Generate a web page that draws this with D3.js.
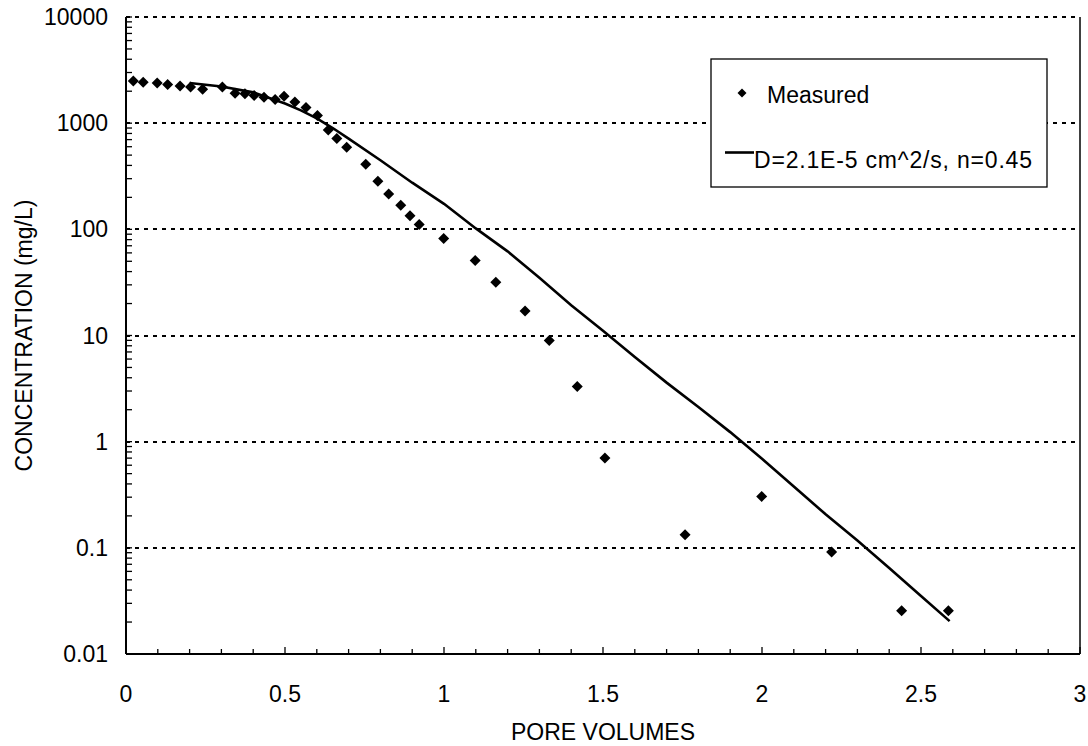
<!DOCTYPE html>
<html>
<head>
<meta charset="utf-8">
<script src="https://cdn.jsdelivr.net/npm/d3@7/dist/d3.min.js"></script>
<style>
  html, body { margin: 0; padding: 0; background: #fff; }
  svg { display: block; }
  text { font-family: Arial, "Liberation Sans", sans-serif; fill: #000; }
</style>
</head>
<body>
<svg id="chart" width="1088" height="746"></svg>
<script>
// Measured breakthrough concentrations
const measuredPV = [0.023, 0.054, 0.098, 0.131, 0.170, 0.203, 0.241, 0.303, 0.343, 0.374,
  0.403, 0.434, 0.469, 0.497, 0.531, 0.566, 0.602, 0.636, 0.663, 0.694,
  0.754, 0.792, 0.826, 0.864, 0.893, 0.922, 0.999, 1.098, 1.163, 1.255,
  1.331, 1.419, 1.506, 1.758, 1.999, 2.219, 2.439, 2.586];
const measuredConc = [2500, 2430, 2390, 2310, 2240, 2190, 2090, 2190, 1910, 1890,
  1820, 1750, 1670, 1790, 1585, 1405, 1180, 860, 718, 594,
  411, 283, 215, 169, 134, 111, 82, 51, 31.7, 17,
  8.95, 3.3, 0.70, 0.133, 0.305, 0.0914, 0.0256, 0.0256];

// Model curve, D = 2.1E-5 cm^2/s, n = 0.45
const modelPV = [0.2, 0.3, 0.4, 0.5, 0.55, 0.6, 0.65, 0.7, 0.8, 0.9, 1.0, 1.1, 1.2, 1.3, 1.4,
  1.5, 1.6, 1.7, 1.8, 1.9, 2.0, 2.1, 2.2, 2.3, 2.4, 2.5, 2.59];
const modelConc = [2390, 2215, 1950, 1530, 1320, 1110, 900, 716, 447, 275, 174, 102, 62, 35, 19.3,
  11.1, 6.27, 3.6, 2.12, 1.23, 0.69, 0.378, 0.207, 0.117, 0.0645, 0.0352, 0.0204];

const xTickValues = [0, 0.5, 1, 1.5, 2, 2.5, 3];
const xTickLabels = ["0", "0.5", "1", "1.5", "2", "2.5", "3"];
const yTickValues = [0.01, 0.1, 1, 10, 100, 1000, 10000];
const yTickLabels = ["0.01", "0.1", "1", "10", "100", "1000", "10000"];

const seriesNames = ["Measured", "D=2.1E-5 cm^2/s, n=0.45"];
const xTitle = "PORE VOLUMES";
const yTitle = "CONCENTRATION (mg/L)";

const svg = d3.select("#chart");
const plotLeft = 126, plotRight = 1080, plotTop = 17, plotBottom = 654;
const fontSize = 23;

const x = d3.scaleLinear().domain([0, 3]).range([plotLeft, plotRight]);
const y = d3.scaleLog().domain([0.01, 10000]).range([plotBottom, plotTop]);

// Horizontal dotted gridlines at each decade
svg.append("g").selectAll("line")
  .data(yTickValues.slice(1))
  .join("line")
  .attr("x1", plotLeft).attr("x2", plotRight)
  .attr("y1", d => Math.round(y(d))).attr("y2", d => Math.round(y(d)))
  .attr("stroke", "#000").attr("stroke-width", 2)
  .attr("stroke-dasharray", "4,5");

// Right border
svg.append("line")
  .attr("x1", plotRight).attr("x2", plotRight)
  .attr("y1", plotTop).attr("y2", plotBottom)
  .attr("stroke", "#000").attr("stroke-width", 1.5);

// Ticks on the x axis: minor every 0.1, major every 0.5
const xMinor = d3.range(0, 31).map(i => i / 10);
svg.append("g").selectAll("line")
  .data(xMinor)
  .join("line")
  .attr("x1", d => x(d)).attr("x2", d => x(d))
  .attr("y1", plotBottom)
  .attr("y2", (d, i) => plotBottom - (i % 5 === 0 ? 7 : 5))
  .attr("stroke", "#000").attr("stroke-width", 1.3);

// Ticks on the y axis (1..9 within each decade)
const yMinor = [];
for (let e = -2; e < 4; e++) {
  for (let m = 1; m < 10; m++) yMinor.push(m * Math.pow(10, e));
}
yMinor.push(10000);
svg.append("g").selectAll("line")
  .data(yMinor)
  .join("line")
  .attr("x1", plotLeft).attr("x2", plotLeft + 6)
  .attr("y1", d => y(d)).attr("y2", d => y(d))
  .attr("stroke", "#000").attr("stroke-width", 1.3);

// Axis lines
svg.append("line")
  .attr("x1", plotLeft).attr("x2", plotRight)
  .attr("y1", plotBottom).attr("y2", plotBottom)
  .attr("stroke", "#000").attr("stroke-width", 2);
svg.append("line")
  .attr("x1", plotLeft).attr("x2", plotLeft)
  .attr("y1", plotTop).attr("y2", plotBottom)
  .attr("stroke", "#000").attr("stroke-width", 2);

// Tick labels
svg.append("g").selectAll("text")
  .data(xTickValues)
  .join("text")
  .attr("x", d => x(d)).attr("y", 702)
  .attr("text-anchor", "middle")
  .attr("font-size", fontSize)
  .text((d, i) => xTickLabels[i]);

svg.append("g").selectAll("text")
  .data(yTickValues)
  .join("text")
  .attr("x", 108).attr("y", d => y(d) + 8)
  .attr("text-anchor", "end")
  .attr("font-size", fontSize)
  .text((d, i) => yTickLabels[i]);

// Axis titles
svg.append("text")
  .attr("x", (plotLeft + plotRight) / 2).attr("y", 740)
  .attr("text-anchor", "middle")
  .attr("font-size", fontSize)
  .text(xTitle);

svg.append("text")
  .attr("transform", `translate(31.5,${(plotTop + plotBottom) / 2}) rotate(-90)`)
  .attr("text-anchor", "middle")
  .attr("font-size", fontSize)
  .text(yTitle);

// Model curve
const line = d3.line().x(d => x(d[0])).y(d => y(d[1]));
svg.append("path")
  .datum(modelPV.map((v, i) => [v, modelConc[i]]))
  .attr("d", line)
  .attr("fill", "none")
  .attr("stroke", "#000")
  .attr("stroke-width", 2.6);

// Measured points as diamonds
const diamond = r => `M0,${-r}L${r},0L0,${r}L${-r},0Z`;
svg.append("g").selectAll("path")
  .data(measuredPV.map((v, i) => [v, measuredConc[i]]))
  .join("path")
  .attr("transform", d => `translate(${x(d[0])},${y(d[1])})`)
  .attr("d", diamond(5.5))
  .attr("fill", "#000");

// Legend
const lg = svg.append("g");
lg.append("rect")
  .attr("x", 711).attr("y", 59)
  .attr("width", 336).attr("height", 128)
  .attr("fill", "#fff").attr("stroke", "#000").attr("stroke-width", 1.3);
lg.append("path")
  .attr("transform", "translate(742,93)")
  .attr("d", diamond(4.5))
  .attr("fill", "#000");
lg.append("text")
  .attr("x", 767).attr("y", 103)
  .attr("font-size", fontSize)
  .text(seriesNames[0]);
lg.append("line")
  .attr("x1", 725).attr("x2", 754)
  .attr("y1", 152.5).attr("y2", 152.5)
  .attr("stroke", "#000").attr("stroke-width", 2.6);
lg.append("text")
  .attr("x", 754).attr("y", 168)
  .attr("font-size", fontSize)
  .attr("textLength", 278)
  .text(seriesNames[1]);
</script>
</body>
</html>
